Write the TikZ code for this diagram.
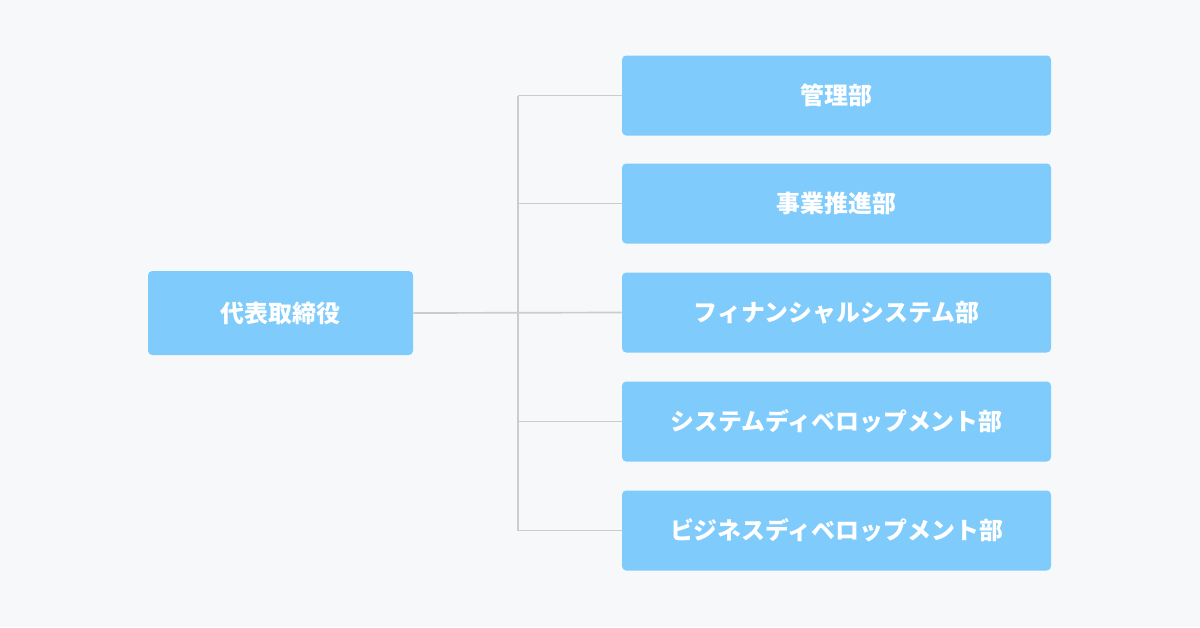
\documentclass[tikz,border=0pt]{standalone}
\usepackage{fontspec}
\newfontfamily\cjk{Noto Sans CJK JP}
\usetikzlibrary{positioning}
\begin{document}
\begin{tikzpicture}[x=0.025cm,y=-0.025cm]
        %colores
        \definecolor{bg}{HTML}{F7F8FA}
        \definecolor{boxblue}{HTML}{7ECBFC}
        \definecolor{linegray}{HTML}{CCCCCC}
        \tikzset{
            dept/.style={fill=boxblue,rounded corners=3pt,text=white,font=\cjk\bfseries\fontsize{17}{20}\selectfont,
                minimum width=429*0.025cm,minimum height=80*0.025cm,inner sep=0pt},
            boss/.style={dept,minimum width=265*0.025cm,minimum height=84*0.025cm},
            link/.style={linegray,line width=1.2pt}
        }

        % fondo
        \fill[bg] (0,0) rectangle (1200,627);

        % cajas
        \node[boss] (ceo) at (280.5,313) {代表取締役};
        \foreach \n/\y/\t in {a/95.5/管理部, b/203.5/事業推進部, c/312.5/フィナンシャルシステム部,
            d/421.5/システムディベロップメント部, e/530.5/ビジネスディベロップメント部}
            \node[dept] (\n) at (836.5,\y) {\t};

        % lineas
        \coordinate (top) at (518,95.5);
        \coordinate (bot) at (518,530.5);
        \draw[link] (top) -- (bot);
        \draw[link] (ceo.east) -- (c.west);
        \foreach \n in {a,b,d,e}
            \draw[link] (\n.west) -- (518,0 |- \n.west);
\end{tikzpicture}
\end{document}
